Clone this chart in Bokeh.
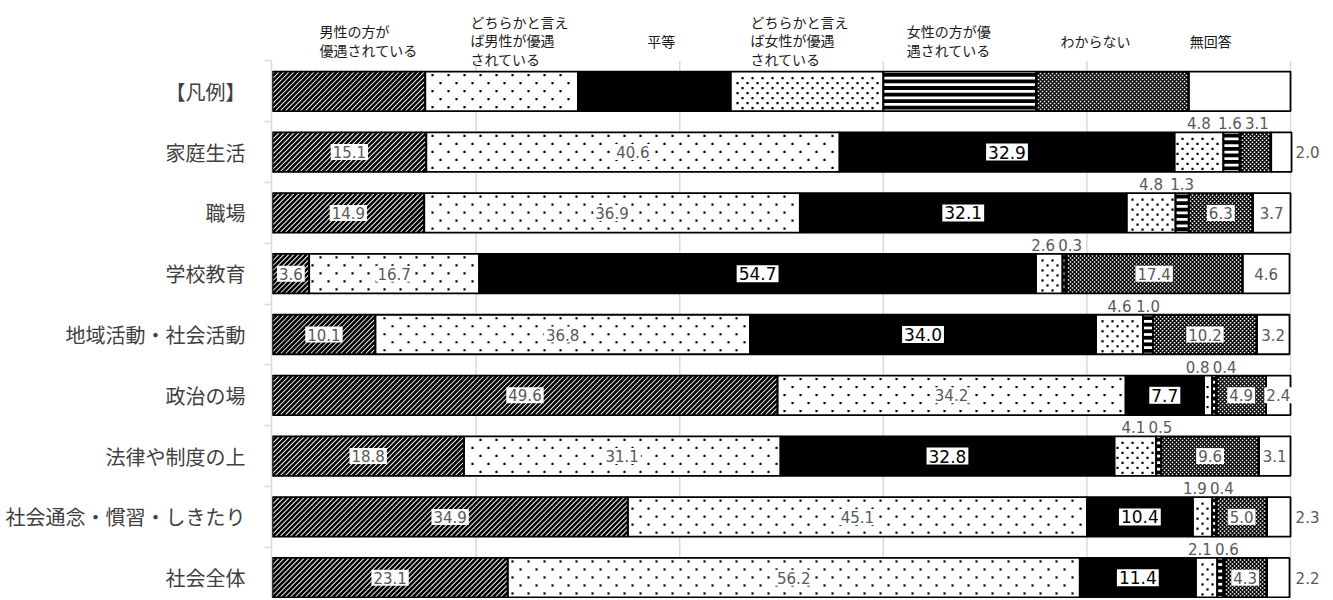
import math
import numpy as np
from bokeh.plotting import figure
from bokeh.models import ColumnDataSource, Range1d, FixedTicker
from bokeh.core.properties import value
from bokeh.embed import file_html
from bokeh.resources import INLINE

# ---------------- data ----------------
categories = ["【凡例】", "家庭生活", "職場", "学校教育", "地域活動・社会活動",
              "政治の場", "法律や制度の上", "社会通念・慣習・しきたり", "社会全体"]

series_names = ["男性の方が\n優遇されている",
                "どちらかと言え\nば男性が優遇\nされている",
                "平等",
                "どちらかと言え\nば女性が優遇\nされている",
                "女性の方が優\n遇されている",
                "わからない",
                "無回答"]

male_much   = [15, 15.1, 14.9, 3.6, 10.1, 49.6, 18.8, 34.9, 23.1]
male_some   = [15, 40.6, 36.9, 16.7, 36.8, 34.2, 31.1, 45.1, 56.2]
equal       = [15, 32.9, 32.1, 54.7, 34.0, 7.7, 32.8, 10.4, 11.4]
female_some = [15, 4.8, 4.8, 2.6, 4.6, 0.8, 4.1, 1.9, 2.1]
female_much = [15, 1.6, 1.3, 0.3, 1.0, 0.4, 0.5, 0.4, 0.6]
unknown     = [15, 3.1, 6.3, 17.4, 10.2, 4.9, 9.6, 5.0, 4.3]
no_answer   = [10, 2.0, 3.7, 4.6, 3.2, 2.4, 3.1, 2.3, 2.2]

series = [male_much, male_some, equal, female_some, female_much, unknown, no_answer]

# label placement for data rows (rows 1..8): in / above / right
placement = [
    ["in", "in", "in", "above", "above", "above", "right"],
    ["in", "in", "in", "above", "above", "in", "in"],
    ["in", "in", "in", "above", "above", "in", "in"],
    ["in", "in", "in", "above", "above", "in", "in"],
    ["in", "in", "in", "above", "above", "in", "in"],
    ["in", "in", "in", "above", "above", "in", "in"],
    ["in", "in", "in", "above", "above", "in", "right"],
    ["in", "in", "in", "above", "above", "in", "right"],
]

# ---------------- layout (not data) ----------------
header_x = [4.62, 19.45, 36.8, 46.95, 62.3, 77.4, 90.1]
grid_ticks = [20, 40, 60, 80, 100]
right_label_x = 101.67
bar_h = 0.65
PXX = 10.18   # px per percent
PXY = 60.8    # px per row
W, H = 1330, 598
MBL, MBR = 271, 3
x_start = -0.1
x_end = x_start + (W - MBL - MBR) / PXX
y_top = -90.8 / PXY
y_bottom = y_top + H / PXY
header_y = y_top + 40 / PXY

p = figure(width=W, height=H,
           x_range=Range1d(x_start, x_end),
           y_range=Range1d(y_bottom, y_top),
           output_backend="svg", toolbar_location=None,
           x_axis_location=None,
           min_border_left=MBL, min_border_right=MBR,
           min_border_top=0, min_border_bottom=0)
p.outline_line_color = None
p.xgrid.visible = False
p.ygrid.visible = False

# grid lines
p.segment(x0=grid_ticks, y0=[-0.5] * len(grid_ticks), x1=grid_ticks,
          y1=[y_bottom + 1] * len(grid_ticks), line_color="#d9d9d9", line_width=1.5)

# y axis
ax = p.yaxis[0]
ax.ticker = FixedTicker(ticks=list(range(len(categories))),
                        minor_ticks=[i - 0.5 for i in range(len(categories) + 1)])
ax.major_label_overrides = {i: c for i, c in enumerate(categories)}
ax.major_label_text_font = "Noto Sans CJK JP"
ax.major_label_text_font_size = "20px"
ax.major_label_text_color = "#404040"
ax.major_label_standoff = 19
ax.major_tick_line_color = None
ax.major_tick_out = 0
ax.major_tick_in = 0
ax.minor_tick_line_color = "#d9d9d9"
ax.minor_tick_line_width = 1.5
ax.minor_tick_out = 7
ax.minor_tick_in = 0
ax.axis_line_color = "#d9d9d9"
ax.axis_line_width = 1.5
ax.bounds = (-0.5, 8.6)

arr = np.array(series, dtype=float)
rights = np.cumsum(arr, axis=0)
lefts = rights - arr
rows = list(range(len(categories)))

base_fill = ["white", "white", "black", "white", "white", "black", "white"]

# base fills
for k in range(len(series)):
    src = ColumnDataSource(dict(y=rows, left=lefts[k], right=rights[k]))
    p.hbar(y="y", left="left", right="right", height=bar_h, source=src,
           fill_color=base_fill[k], line_color=None)

# ---------- pattern helpers (pixel space -> data space) ----------
HPX = bar_h * PXY


def to_data(u, v, r):
    return u / PXX, r + bar_h / 2 - v / PXY


def diag_lines(x0, x1, r, period):
    X0, X1 = x0 * PXX, x1 * PXX
    out = []
    c = math.floor((X0 - HPX) / period) * period
    while c < X1:
        vs = max(0.0, X0 - c)
        ve = min(HPX, X1 - c)
        if ve - vs > 0.4:
            out.append((*to_data(c + vs, vs, r), *to_data(c + ve, ve, r)))
        c += period
    return out


def dot_grid(x0, x1, r, dx, dy, stag, v0, inset):
    X0, X1 = x0 * PXX, x1 * PXX
    pts = []
    j = 0
    v = v0
    while v < HPX - inset + 0.01:
        off = stag if j % 2 else 0.0
        u = math.floor(X0 / dx) * dx + off
        while u <= X1 - inset:
            if u >= X0 + inset:
                pts.append(to_data(u, v, r))
            u += dx
        j += 1
        v += dy
    return pts


def h_stripes(x0, x1, r, centers):
    X0, X1 = x0 * PXX, x1 * PXX
    return [(*to_data(X0, v, r), *to_data(X1, v, r)) for v in centers]


# series 1: right diagonal lines
segs = []
for r in rows:
    segs += diag_lines(lefts[0][r], rights[0][r], r, 5.0)
a = np.array(segs)
p.segment(x0=a[:, 0], y0=a[:, 1], x1=a[:, 2], y1=a[:, 3],
          line_color="black", line_width=2.6, line_cap="butt")

# series 2: sparse dots
pts = []
for r in rows:
    pts += dot_grid(lefts[1][r], rights[1][r], r, 16, 8, 8, 4, 2.5)
a = np.array(pts)
p.scatter(x=a[:, 0], y=a[:, 1], marker="square", size=2.2,
          fill_color="black", line_color=None)

# series 4: denser dots
pts = []
for r in rows:
    pts += dot_grid(lefts[3][r], rights[3][r], r, 10, 5, 5, 3.0, 2.5)
a = np.array(pts)
p.scatter(x=a[:, 0], y=a[:, 1], marker="square", size=2.2,
          fill_color="black", line_color=None)

# series 5: horizontal stripes
stripe_centers = [3.4 + 6.55 * m for m in range(6)]
segs = []
for r in rows:
    segs += h_stripes(lefts[4][r], rights[4][r], r, stripe_centers)
a = np.array(segs)
p.segment(x0=a[:, 0], y0=a[:, 1], x1=a[:, 2], y1=a[:, 3],
          line_color="black", line_width=3.8, line_cap="butt")

# series 6: small checker (white squares on black)
pts = []
for r in rows:
    pts += dot_grid(lefts[5][r], rights[5][r], r, 4, 2, 2, 1.5, 1.2)
a = np.array(pts)
p.scatter(x=a[:, 0], y=a[:, 1], marker="square", size=1.5,
          fill_color="white", line_color=None)

# outlines
for k in range(len(series)):
    src = ColumnDataSource(dict(y=rows, left=lefts[k], right=rights[k]))
    p.hbar(y="y", left="left", right="right", height=bar_h, source=src,
           fill_color=None, line_color="black", line_width=1.8)

# header labels
p.text(x=header_x, y=[header_y] * len(header_x), text=series_names,
       text_font=value("Noto Sans CJK JP"), text_font_size="14px",
       text_color="#1a1a1a", text_align="left", text_baseline="middle",
       text_line_height=0.94)

# data labels
in_gray = dict(x=[], y=[], t=[])
in_black = dict(x=[], y=[], t=[])
outside = dict(x=[], y=[], t=[])
above_off = bar_h / 2 + 9 / PXY
gap = 27 / PXX

for r in range(1, len(categories)):
    above_items = []
    for k in range(len(series)):
        v = series[k][r]
        c = (lefts[k][r] + rights[k][r]) / 2
        pos = placement[r - 1][k]
        txt = f"{v:.1f}"
        if pos == "in":
            d = in_black if k == 2 else in_gray
            d["x"].append(c); d["y"].append(r); d["t"].append(txt)
        elif pos == "above":
            above_items.append([c, txt])
        else:
            outside["x"].append(right_label_x); outside["y"].append(r); outside["t"].append(txt)
    above_items.sort(key=lambda q: q[0])
    for _ in range(30):
        for i in range(len(above_items) - 1):
            dd = above_items[i + 1][0] - above_items[i][0]
            if dd < gap:
                sh = (gap - dd) / 2
                above_items[i][0] -= sh
                above_items[i + 1][0] += sh
    for xx, txt in above_items:
        outside["x"].append(xx); outside["y"].append(r - above_off); outside["t"].append(txt)

p.text(x="x", y="y", text="t", source=ColumnDataSource(in_gray),
       text_font=value("DejaVu Sans"), text_font_size="15px", text_color="#595959",
       text_align="center", text_baseline="middle",
       background_fill_color="white", padding=2)
p.text(x="x", y="y", text="t", source=ColumnDataSource(in_black),
       text_font=value("DejaVu Sans"), text_font_size="17px", text_color="black",
       text_align="center", text_baseline="middle",
       background_fill_color="white", padding=2)
p.text(x="x", y="y", text="t", source=ColumnDataSource(outside),
       text_font=value("DejaVu Sans"), text_font_size="15px", text_color="#595959",
       text_align="center", text_baseline="middle")

open("out.html", "w").write(file_html(p, INLINE))
